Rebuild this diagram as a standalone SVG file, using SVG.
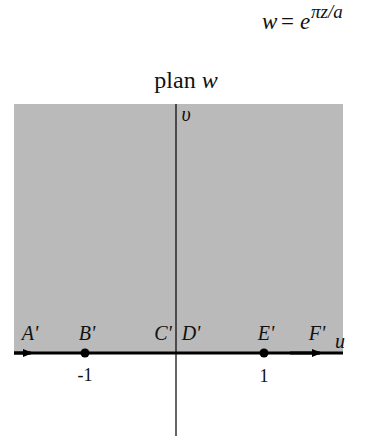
<svg xmlns="http://www.w3.org/2000/svg" width="372" height="436" viewBox="0 0 372 436">
<style>
text{font-family:"Liberation Serif","Times New Roman",serif;fill:#111}
.lbl{font-size:20px;font-style:italic}
.num{font-size:18px}
</style>
<defs>
<marker id="arr" markerWidth="10" markerHeight="8" refX="8" refY="4" orient="auto" markerUnits="userSpaceOnUse">
<path d="M0,0 L10,4 L0,8 Z" fill="#000"/>
</marker>
</defs>
<g id="formula"><text x="262" y="29" font-size="23" font-style="italic">w</text><text x="281" y="29" font-size="23">=</text><text x="300" y="29" font-size="23" font-style="italic">e</text><text x="311" y="18" font-size="19" font-style="italic">πz/a</text></g>
<g id="title"><text x="186" y="88" font-size="24" text-anchor="middle">plan <tspan font-style="italic">w</tspan></text></g>
<g id="region"><rect x="14" y="104" width="329" height="248" fill="#bababa"/></g>
<g id="connectors">
<line x1="176" y1="104" x2="176" y2="436" stroke="#000" stroke-width="1.2"/>
<line x1="14" y1="353" x2="343" y2="353" stroke="#000" stroke-width="3"/>
<line x1="14" y1="353" x2="31" y2="353" stroke="#000" stroke-width="3" marker-end="url(#arr)"/>
<line x1="290" y1="353" x2="320" y2="353" stroke="#000" stroke-width="3" marker-end="url(#arr)"/>
</g>
<g id="B"><circle cx="85" cy="353" r="4.5" fill="#000"/><text class="lbl" x="87" y="340" text-anchor="middle">B'</text><text class="num" x="85" y="381" text-anchor="middle">-1</text></g>
<g id="E"><circle cx="264" cy="353" r="4.5" fill="#000"/><text class="lbl" x="266" y="340" text-anchor="middle">E'</text><text class="num" x="264" y="382" text-anchor="middle">1</text></g>
<g id="A"><text class="lbl" x="30" y="340" text-anchor="middle">A'</text></g>
<g id="C"><text class="lbl" x="163" y="340" text-anchor="middle">C'</text></g>
<g id="D"><text class="lbl" x="191" y="340" text-anchor="middle">D'</text></g>
<g id="F"><text class="lbl" x="317" y="340" text-anchor="middle">F'</text></g>
<g id="u"><text class="lbl" x="340" y="348" text-anchor="middle">u</text></g>
<g id="v"><text class="lbl" x="186" y="121" text-anchor="middle">υ</text></g>
</svg>
